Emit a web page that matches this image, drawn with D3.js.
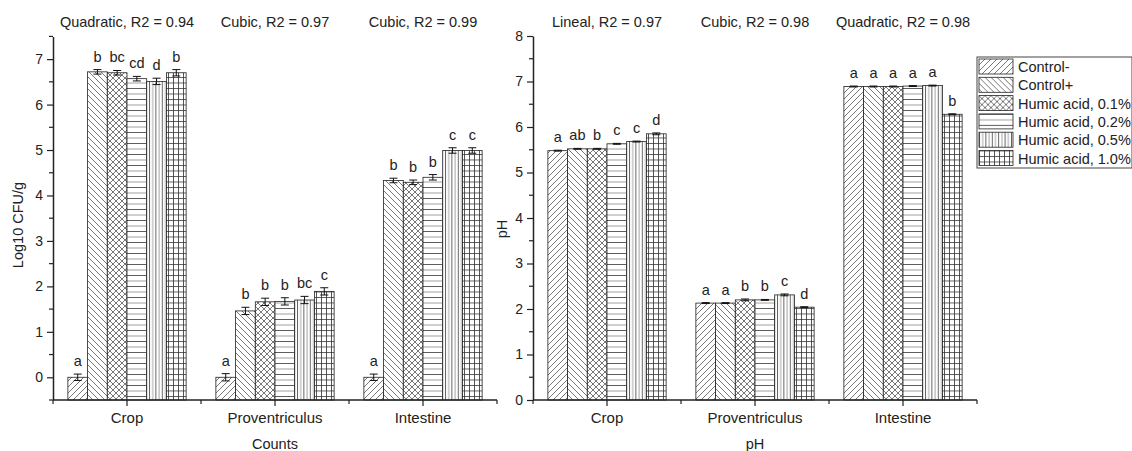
<!DOCTYPE html>
<html>
<head>
<meta charset="utf-8">
<script src="https://cdn.jsdelivr.net/npm/d3@7"></script>
<style>
  body { margin: 0; background: #fff; }
  text { font-family: "Liberation Sans", Arial, sans-serif; fill: #222; }
</style>
</head>
<body>
<div id="chart"></div>
<script>
const width = 1132;
const height = 451;

const categories = ["Crop", "Proventriculus", "Intestine"];
const series = ["Control-", "Control+", "Humic acid, 0.1%", "Humic acid, 0.2%", "Humic acid, 0.5%", "Humic acid, 1.0%"];

// Counts (Log10 CFU/g), one row per category, one value per series
const countsValues = [
  [0.00, 6.72, 6.70, 6.57, 6.51, 6.70],
  [0.00, 1.46, 1.66, 1.67, 1.70, 1.89],
  [0.00, 4.33, 4.29, 4.40, 4.99, 4.99]
];
const countsErrors = [
  [0.07, 0.05, 0.05, 0.05, 0.07, 0.07],
  [0.08, 0.08, 0.08, 0.08, 0.08, 0.08],
  [0.07, 0.05, 0.05, 0.06, 0.06, 0.06]
];
const countsLetters = [
  ["a", "b", "bc", "cd", "d", "b"],
  ["a", "b", "b", "b", "bc", "c"],
  ["a", "b", "b", "b", "c", "c"]
];
const countsFits = ["Quadratic, R2 = 0.94", "Cubic, R2 = 0.97", "Cubic, R2 = 0.99"];

// pH
const phValues = [
  [5.48, 5.52, 5.52, 5.63, 5.68, 5.85],
  [2.13, 2.13, 2.20, 2.20, 2.31, 2.04],
  [6.89, 6.89, 6.89, 6.90, 6.91, 6.28]
];
const phErrors = [
  [0.01, 0.01, 0.01, 0.01, 0.01, 0.02],
  [0.01, 0.01, 0.02, 0.01, 0.02, 0.01],
  [0.01, 0.01, 0.01, 0.01, 0.01, 0.01]
];
const phLetters = [
  ["a", "ab", "b", "c", "c", "d"],
  ["a", "a", "b", "b", "c", "d"],
  ["a", "a", "a", "a", "a", "b"]
];
const phFits = ["Lineal, R2 = 0.97", "Cubic, R2 = 0.98", "Quadratic, R2 = 0.98"];

const fs = 14.5;

const svg = d3.select("#chart")
  .append("svg")
  .attr("width", width)
  .attr("height", height);

// hatch patterns
const defs = svg.append("defs");
function pattern(id, w, h, lines) {
  const p = defs.append("pattern")
    .attr("id", id)
    .attr("patternUnits", "userSpaceOnUse")
    .attr("width", w)
    .attr("height", h);
  p.append("rect").attr("width", w).attr("height", h).attr("fill", "#fff");
  lines.forEach(l => {
    p.append("line")
      .attr("x1", l[0]).attr("y1", l[1]).attr("x2", l[2]).attr("y2", l[3])
      .attr("stroke", l[4] || "#555")
      .attr("stroke-width", 0.8);
  });
}
pattern("p0", 6, 6, [[0, 6, 6, 0], [-1, 1, 1, -1], [5, 7, 7, 5]]);
pattern("p1", 6, 6, [[0, 0, 6, 6], [-1, 5, 1, 7], [5, -1, 7, 1]]);
pattern("p2", 6, 6, [[0, 6, 6, 0], [-1, 1, 1, -1], [5, 7, 7, 5], [0, 0, 6, 6], [-1, 5, 1, 7], [5, -1, 7, 1]]);
pattern("p3", 10, 11, [[0, 0.5, 10, 0.5, "#333"], [0, 6, 10, 6, "#888"]]);
pattern("p4", 6.4, 10, [[0.5, 0, 0.5, 10, "#333"], [3.7, 0, 3.7, 10, "#888"]]);
pattern("p5", 5, 5.5, [[0, 0.5, 5, 0.5, "#333"], [0.5, 0, 0.5, 5.5, "#333"]]);

const fills = ["url(#p0)", "url(#p1)", "url(#p2)", "url(#p3)", "url(#p4)", "url(#p5)"];

function drawPanel(opt) {
  const g = svg.append("g");
  const x = d3.scaleBand().domain(categories).range([opt.x0, opt.x0 + 444]);
  const xs = d3.scaleBand().domain(series).range([0, x.bandwidth()]).paddingOuter(0.755);
  const y = d3.scaleLinear().domain(opt.domain).range([400, opt.yTop]);

  // bars
  categories.forEach((c, ci) => {
    const grp = g.append("g").attr("transform", `translate(${x(c)},0)`);
    grp.selectAll("rect")
      .data(series)
      .join("rect")
      .attr("x", s => xs(s))
      .attr("y", (s, i) => y(opt.values[ci][i]))
      .attr("width", xs.bandwidth())
      .attr("height", (s, i) => y(opt.domain[0]) - y(opt.values[ci][i]))
      .attr("fill", (s, i) => fills[i])
      .attr("stroke", "#222")
      .attr("stroke-width", 0.8);

    // error bars
    series.forEach((s, i) => {
      const cx = xs(s) + xs.bandwidth() / 2;
      const v = opt.values[ci][i], e = opt.errors[ci][i];
      const eg = grp.append("g").attr("stroke", "#111").attr("stroke-width", 1);
      eg.append("line").attr("x1", cx).attr("x2", cx).attr("y1", y(v - e)).attr("y2", y(v + e));
      eg.append("line").attr("x1", cx - 4).attr("x2", cx + 4).attr("y1", y(v - e)).attr("y2", y(v - e));
      eg.append("line").attr("x1", cx - 4).attr("x2", cx + 4).attr("y1", y(v + e)).attr("y2", y(v + e));
      grp.append("text")
        .attr("x", cx)
        .attr("y", y(v + e) - 8)
        .attr("text-anchor", "middle")
        .attr("font-size", fs)
        .text(opt.letters[ci][i]);
    });

    // fit annotation
    g.append("text")
      .attr("x", x(c) + x.bandwidth() / 2)
      .attr("y", 27)
      .attr("text-anchor", "middle")
      .attr("font-size", fs)
      .text(opt.fits[ci]);
  });

  // y axis
  const yAxis = d3.axisLeft(y).tickValues(d3.range(Math.ceil(opt.domain[0]), opt.domain[1] + 0.01, 1))
    .tickSize(6).tickPadding(4).tickSizeOuter(0).tickFormat(d3.format("d"));
  const ya = g.append("g").attr("transform", `translate(${opt.x0},0)`).call(yAxis);
  ya.selectAll("text").attr("font-size", 14).style("font-family", "Liberation Sans, Arial, sans-serif").attr("fill", "#222");
  ya.select(".domain").attr("stroke", "#222").attr("stroke-width", 1.5);
  ya.selectAll(".tick line").attr("stroke", "#222").attr("stroke-width", 1.2);
  const minor = d3.range(opt.domain[0], opt.domain[1] + 0.01, 0.5).filter(v => Math.abs(v % 1) > 0.01);
  ya.selectAll(".minor").data(minor).join("line")
    .attr("x1", -4).attr("x2", 0)
    .attr("y1", d => y(d)).attr("y2", d => y(d))
    .attr("stroke", "#222").attr("stroke-width", 1.2);

  // x axis
  const xa = g.append("g").attr("transform", "translate(0,400)");
  xa.append("line").attr("x1", opt.x0).attr("x2", opt.x0 + 444).attr("stroke", "#222").attr("stroke-width", 1.5);
  const edges = categories.map(c => x(c)).concat([opt.x0 + 444]);
  xa.selectAll(".edge").data(edges).join("line")
    .attr("x1", d => d).attr("x2", d => d).attr("y1", 0).attr("y2", 4)
    .attr("stroke", "#222").attr("stroke-width", 1.2);
  xa.selectAll(".mid").data(categories).join("line")
    .attr("x1", c => x(c) + x.bandwidth() / 2).attr("x2", c => x(c) + x.bandwidth() / 2)
    .attr("y1", 0).attr("y2", 6)
    .attr("stroke", "#222").attr("stroke-width", 1.2);
  xa.selectAll(".lab").data(categories).join("text")
    .attr("x", c => x(c) + x.bandwidth() / 2)
    .attr("y", 23)
    .attr("text-anchor", "middle")
    .attr("font-size", 15)
    .text(c => c);

  // axis titles
  g.append("text")
    .attr("x", opt.x0 + 222)
    .attr("y", 449)
    .attr("text-anchor", "middle")
    .attr("font-size", fs)
    .text(opt.xTitle);
  g.append("text")
    .attr("transform", `translate(${opt.yTitleX},${opt.yTitleY}) rotate(-90)`)
    .attr("text-anchor", "middle")
    .attr("font-size", fs)
    .text(opt.yTitle);
}

drawPanel({
  x0: 53, domain: [-0.5, 7.5], yTop: 36.4,
  values: countsValues, errors: countsErrors, letters: countsLetters, fits: countsFits,
  xTitle: "Counts", yTitle: "Log10 CFU/g", yTitleX: 23, yTitleY: 225
});
drawPanel({
  x0: 533, domain: [0, 8], yTop: 36,
  values: phValues, errors: phErrors, letters: phLetters, fits: phFits,
  xTitle: "pH", yTitle: "pH", yTitleX: 507, yTitleY: 229
});

// legend
const legend = svg.append("g").attr("transform", "translate(977,57)");
legend.append("rect")
  .attr("width", 155).attr("height", 111)
  .attr("fill", "#fff").attr("stroke", "#444").attr("stroke-width", 1);
const rows = legend.selectAll(".row").data(series).join("g")
  .attr("transform", (d, i) => `translate(2,${2 + i * 18.3})`);
rows.append("rect")
  .attr("width", 34).attr("height", 15)
  .attr("fill", (d, i) => fills[i])
  .attr("stroke", "#222").attr("stroke-width", 0.8);
rows.append("text")
  .attr("x", 39).attr("y", 13)
  .attr("font-size", fs)
  .text(d => d);
</script>
</body>
</html>
